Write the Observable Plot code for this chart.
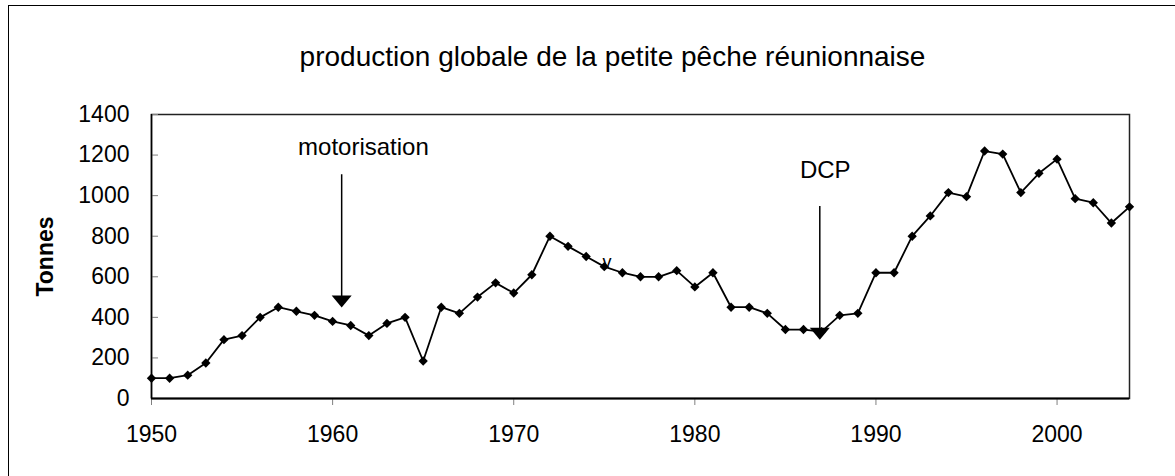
<!DOCTYPE html>
<html><head><meta charset="utf-8">
<script src="https://cdn.jsdelivr.net/npm/d3@7"></script>
<script src="https://cdn.jsdelivr.net/npm/@observablehq/plot@0.6"></script>
<style>
body{margin:0;background:#fff;overflow:hidden;font-family:"Liberation Sans",Arial,sans-serif}
#wrap{position:relative;width:1175px;height:476px;overflow:hidden}
#border{position:absolute;left:8px;top:5px;width:1300px;height:600px;border:1.5px solid #000;box-sizing:border-box}
#chart{position:absolute;left:0;top:0}
</style></head><body>
<div id="wrap"><div id="border"></div><div id="chart"></div></div>
<script>
const title = "production globale de la petite pêche réunionnaise";
const yLabel = "Tonnes";
const years = [1950,1951,1952,1953,1954,1955,1956,1957,1958,1959,
  1960,1961,1962,1963,1964,1965,1966,1967,1968,1969,
  1970,1971,1972,1973,1974,1975,1976,1977,1978,1979,
  1980,1981,1982,1983,1984,1985,1986,1987,1988,1989,
  1990,1991,1992,1993,1994,1995,1996,1997,1998,1999,
  2000,2001,2002,2003,2004];
const tonnes = [100,100,115,175,290,310,400,450,430,410,
  380,360,310,370,400,185,450,420,500,570,
  520,610,800,750,700,650,620,600,600,630,
  550,620,450,450,420,340,340,330,410,420,
  620,620,800,900,1015,995,1220,1205,1015,1110,
  1180,985,965,865,945];
const xTicks = [1950,1960,1970,1980,1990,2000];
const yTicks = [0,200,400,600,800,1000,1200,1400];

// annotations (data units)
const annoText = ["motorisation","DCP"];
const annoTextX = [1961.7, 1987.2];
const annoTextY = [1237, 1124];
const arrowX = [1960.5, 1986.9];
const arrowTop = [1103, 946];
const arrowTip = [448, 290];
const markText = ["v"];
const markX = [1975.15];
const markY = [672];

const data = years.map((y,i)=>({year:y, t:tonnes[i]}));
const annos = annoText.map((s,i)=>({s, x:annoTextX[i], y:annoTextY[i]}));
const arrows = arrowX.map((x,i)=>({x, top:arrowTop[i], tip:arrowTip[i]}));
const marks = markText.map((s,i)=>({s, x:markX[i], y:markY[i]}));

const headDown = {draw(ctx){ctx.moveTo(-10,-12);ctx.lineTo(10,-12);ctx.lineTo(0,0);ctx.closePath();}};

const W = 1175, H = 476, mL = 151, mR = 46, mT = 114, mB = 78;
const plotW = W - mL - mR;

const chart = Plot.plot({
  width: W, height: H,
  marginLeft: mL, marginRight: mR, marginTop: mT, marginBottom: mB,
  style: {fontFamily: '"Liberation Sans", Arial, sans-serif', color: "black", background: "transparent"},
  x: {domain: [1950, 2004], label: null},
  y: {domain: [0, 1400], label: null},
  marks: [
    Plot.frame({stroke: "#222", strokeWidth: 1.5}),
    Plot.tickY(yTicks, {y: d => d, insetRight: plotW - 7, stroke: "#808080", strokeWidth: 1}),
    Plot.axisY(yTicks, {tickSize: 0, tickPadding: 22, fontSize: 23, fill: "black", label: null, tickFormat: d => String(d)}),
    Plot.axisX(xTicks, {tickSize: 7, tickPadding: 20, fontSize: 23, stroke: "#808080", fill: "black", label: null, tickFormat: d => String(d)}),
    Plot.ruleY([0], {stroke: "black", strokeWidth: 2}),
    Plot.ruleX([1950], {stroke: "black", strokeWidth: 1.5}),
    Plot.line(data, {x: "year", y: "t", stroke: "black", strokeWidth: 1.8}),
    Plot.dot(data, {x: "year", y: "t", symbol: "diamond2", r: 4.2, fill: "black", stroke: null}),
    Plot.ruleX(arrows, {x: "x", y1: "top", y2: d => d.tip + 40, stroke: "black", strokeWidth: 1.5}),
    Plot.dot(arrows, {x: "x", y: "tip", symbol: headDown, r: 5, fill: "black", stroke: null}),
    Plot.text(annos, {x: "x", y: "y", text: "s", fontSize: 24, fill: "black", textAnchor: "middle", lineAnchor: "middle"}),
    Plot.text(marks, {x: "x", y: "y", text: "s", fontSize: 18, fill: "black", textAnchor: "middle", lineAnchor: "middle"}),
    Plot.text([title], {frameAnchor: "top-left", dx: 612 - mL, dy: -57, fontSize: 28, fill: "black", textAnchor: "middle", lineAnchor: "middle"}),
    Plot.text([yLabel], {frameAnchor: "left", dx: 45 - mL, rotate: -90, fontSize: 23, fontWeight: "bold", fill: "black", textAnchor: "middle", lineAnchor: "middle"})
  ]
});
document.getElementById("chart").appendChild(chart);
</script>
</body></html>
